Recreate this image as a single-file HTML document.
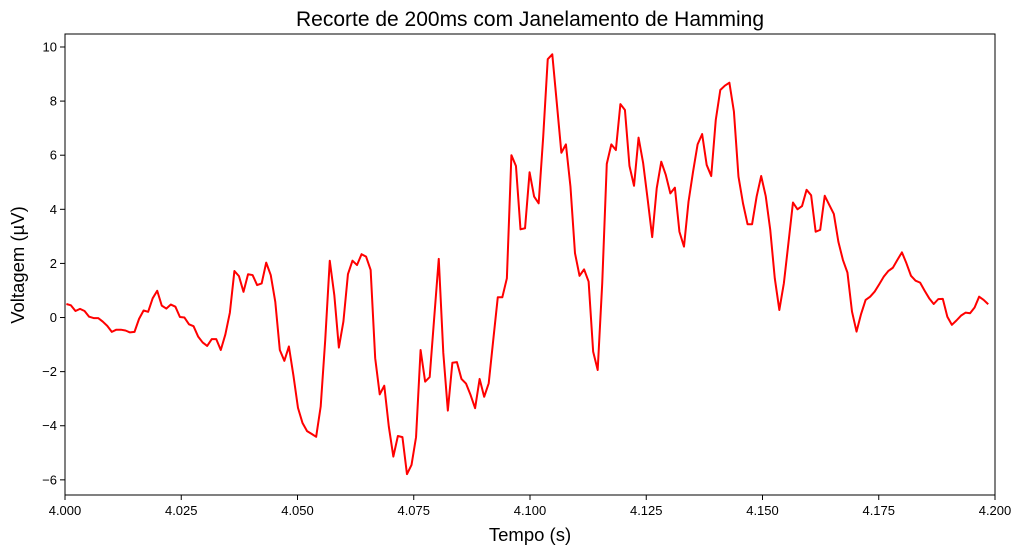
<!DOCTYPE html>
<html><head><meta charset="utf-8"><style>
html,body{margin:0;padding:0;background:#fff;}
svg{display:block;font-family:"Liberation Sans","DejaVu Sans",sans-serif;}
</style></head><body>
<svg id="chart" width="1024" height="554" viewBox="0 0 1024 554">
<text x="530" y="26" font-size="21" text-anchor="middle">Recorte de 200ms com Janelamento de Hamming</text>
<g id="xticks"></g>
<g id="yticks"></g>
<path id="line" fill="none" stroke="#ff0000" stroke-width="2" stroke-linejoin="round"></path>
<rect x="65" y="34" width="930" height="461" fill="none" stroke="#000" stroke-width="1"></rect>
<text x="530" y="541" font-size="18.5" text-anchor="middle">Tempo (s)</text>
<text transform="translate(24,265) rotate(-90)" font-size="18.5" text-anchor="middle">Voltagem (µV)</text>
</svg>
<script>
const xTicks = [4.000, 4.025, 4.050, 4.075, 4.100, 4.125, 4.150, 4.175, 4.200];
const xTickLabels = ["4.000","4.025","4.050","4.075","4.100","4.125","4.150","4.175","4.200"];
const yTicks = [-6, -4, -2, 0, 2, 4, 6, 8, 10];
const yTickLabels = ["−6","−4","−2","0","2","4","6","8","10"];
const startTime = 4.0003;
const sampleRate = 1024;
const voltages = [0.5,0.45,0.24,0.32,0.24,0.03,-0.02,-0.02,-0.15,-0.31,-0.53,-0.45,-0.45,-0.48,-0.55,-0.53,-0.05,0.26,0.21,0.71,
0.99,0.44,0.33,0.48,0.4,0.02,0,-0.25,-0.32,-0.7,-0.92,-1.05,-0.8,-0.8,-1.2,-0.63,0.18,1.72,1.53,0.95,
1.6,1.57,1.2,1.26,2.03,1.57,0.58,-1.2,-1.6,-1.07,-2.15,-3.34,-3.9,-4.2,-4.3,-4.41,-3.29,-0.83,2.1,0.83,
-1.11,-0.15,1.6,2.1,1.94,2.34,2.25,1.76,-1.5,-2.84,-2.52,-4.03,-5.14,-4.38,-4.42,-5.79,-5.45,-4.42,-1.2,-2.37,
-2.2,0,2.17,-1.31,-3.44,-1.67,-1.65,-2.27,-2.44,-2.86,-3.35,-2.27,-2.93,-2.43,-0.83,0.75,0.75,1.45,6.0,5.6,
3.26,3.3,5.37,4.47,4.22,6.68,9.55,9.73,7.92,6.09,6.4,4.84,2.38,1.54,1.78,1.33,-1.26,-1.94,1.27,5.68,
6.4,6.19,7.89,7.67,5.6,4.87,6.65,5.72,4.37,2.97,4.78,5.76,5.27,4.59,4.8,3.17,2.62,4.28,5.39,6.4,
6.78,5.64,5.23,7.3,8.41,8.57,8.68,7.61,5.21,4.22,3.45,3.45,4.47,5.23,4.49,3.24,1.45,0.28,1.27,2.75,
4.25,4.0,4.12,4.72,4.52,3.17,3.24,4.5,4.16,3.83,2.8,2.13,1.66,0.22,-0.52,0.13,0.65,0.77,0.96,1.23,
1.51,1.72,1.84,2.13,2.41,2.0,1.54,1.36,1.29,0.99,0.71,0.5,0.68,0.69,0.03,-0.27,-0.11,0.07,0.18,0.16,
0.37,0.77,0.65,0.49];

const X0=65, X1=995, Y0=34, Y1=495;
const xMin=4.0, xMax=4.2, yMin=-6.56, yMax=10.48;
function sx(t){return X0+(t-xMin)/(xMax-xMin)*(X1-X0);}
function sy(v){return Y1-(v-yMin)/(yMax-yMin)*(Y1-Y0);}
const NS="http://www.w3.org/2000/svg";
const xg=document.getElementById('xticks');
xTicks.forEach((t,i)=>{
  const x=sx(t);
  const l=document.createElementNS(NS,'line');
  l.setAttribute('x1',x);l.setAttribute('x2',x);l.setAttribute('y1',Y1);l.setAttribute('y2',Y1+5);l.setAttribute('stroke','#000');
  
  
  xg.appendChild(l);
  const tx=document.createElementNS(NS,'text');
  tx.setAttribute('x',x);tx.setAttribute('y',Y1+20);tx.setAttribute('font-size','13');tx.setAttribute('text-anchor','middle');
  tx.textContent=xTickLabels[i];
  
  
  xg.appendChild(tx);
});
const yg=document.getElementById('yticks');
yTicks.forEach((v,i)=>{
  const y=sy(v);
  const l=document.createElementNS(NS,'line');
  l.setAttribute('x1',X0-5);l.setAttribute('x2',X0);l.setAttribute('y1',y);l.setAttribute('y2',y);l.setAttribute('stroke','#000');
  
  
  yg.appendChild(l);
  const tx=document.createElementNS(NS,'text');
  tx.setAttribute('x',X0-8);tx.setAttribute('y',y+4.5);tx.setAttribute('font-size','13');tx.setAttribute('text-anchor','end');
  tx.textContent=yTickLabels[i];
  
  
  yg.appendChild(tx);
});
let d='';
voltages.forEach((v,i)=>{
  const t=startTime+i/sampleRate;
  d+=(i?'L':'M')+sx(t).toFixed(2)+','+sy(v).toFixed(2);
});
document.getElementById('line').setAttribute('d',d);
</script>
</body></html>
